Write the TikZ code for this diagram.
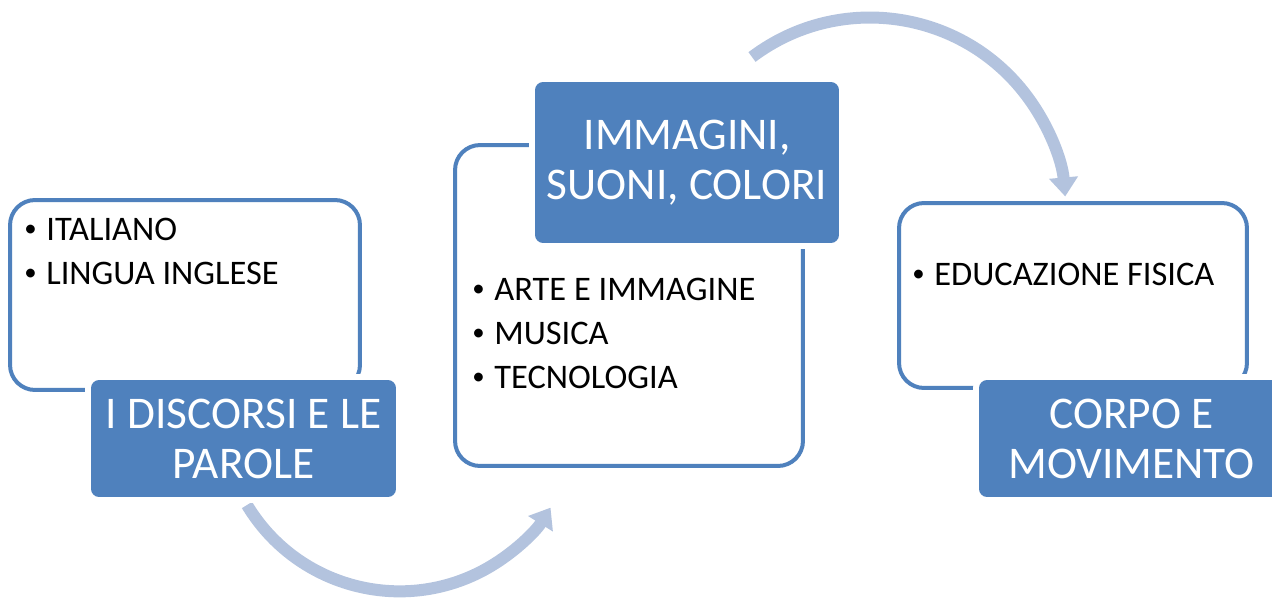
\documentclass[tikz,border=0pt]{standalone}
\usepackage{fontspec}
\setmainfont{Carlito}
\usetikzlibrary{arrows.meta}
\definecolor{boxblue}{HTML}{4F81BD}
\definecolor{arrowblue}{HTML}{B3C3DE}
\newcommand{\bul}{\makebox[0.44cm][l]{\raisebox{0.07cm}{\scalebox{0.72}{\textbullet}}}}

\begin{document}
\begin{tikzpicture}[x=0.02cm,y=-0.02cm,
    listbox/.style={draw=boxblue,line width=0.08cm,rounded corners=0.5cm,fill=white},
    headbox/.style={fill=boxblue,rounded corners=0.16cm,text=white,align=center,inner sep=0pt,
      minimum width=6.1cm,minimum height=2.34cm,font=\fontsize{25.8}{28.4}\selectfont,
      preaction={draw=white,line width=0.24cm}},
    entry/.style={anchor=base west,inner sep=0pt,font=\fontsize{19.6}{25}\selectfont},
    cycarrow/.style={draw=arrowblue,line width=0.24cm,-{Triangle[width=0.56cm,length=0.38cm]}}]
    \clip (0,0) rectangle (1272,599);
    % the two curved arrows, under the boxes
    \coordinate (arrowA) at (247,505);
    \coordinate (arrowB) at (752,57);
    \draw[cycarrow] (arrowA) arc[start angle=149,end angle=32,radius=178];
    \draw[cycarrow] (arrowB) arc[start angle=-127,end angle=-5,radius=196];
    % first group
    \node[listbox,minimum width=7cm,minimum height=3.8cm] (parole-box) at (185,295) {};
    \node[headbox] (parole) at (243.5,438.5) {I DISCORSI E LE\\PAROLE};
    \node[entry] (italiano) at (24,240) {\bul ITALIANO};
    \node[entry] (inglese) at (24,284) {\bul LINGUA INGLESE};
    % second group
    \node[listbox,minimum width=6.96cm,minimum height=6.42cm] (colori-box) at (629,305.5) {};
    \node[headbox,minimum width=6.08cm,minimum height=3.22cm] (colori) at (687,162.5) {IMMAGINI,\\SUONI, COLORI};
    \node[entry] (arte) at (472,300) {\bul ARTE E IMMAGINE};
    \node[entry] (musica) at (472,344) {\bul MUSICA};
    \node[entry] (tecno) at (472,388) {\bul TECNOLOGIA};
    % third group
    \node[listbox,minimum width=6.96cm,minimum height=3.7cm] (corpo-box) at (1073,295.5) {};
    \node[headbox] (corpo) at (1131.5,438.5) {CORPO E\\MOVIMENTO};
    \node[entry] (fisica) at (912,285) {\bul EDUCAZIONE FISICA};
\end{tikzpicture}
\end{document}
